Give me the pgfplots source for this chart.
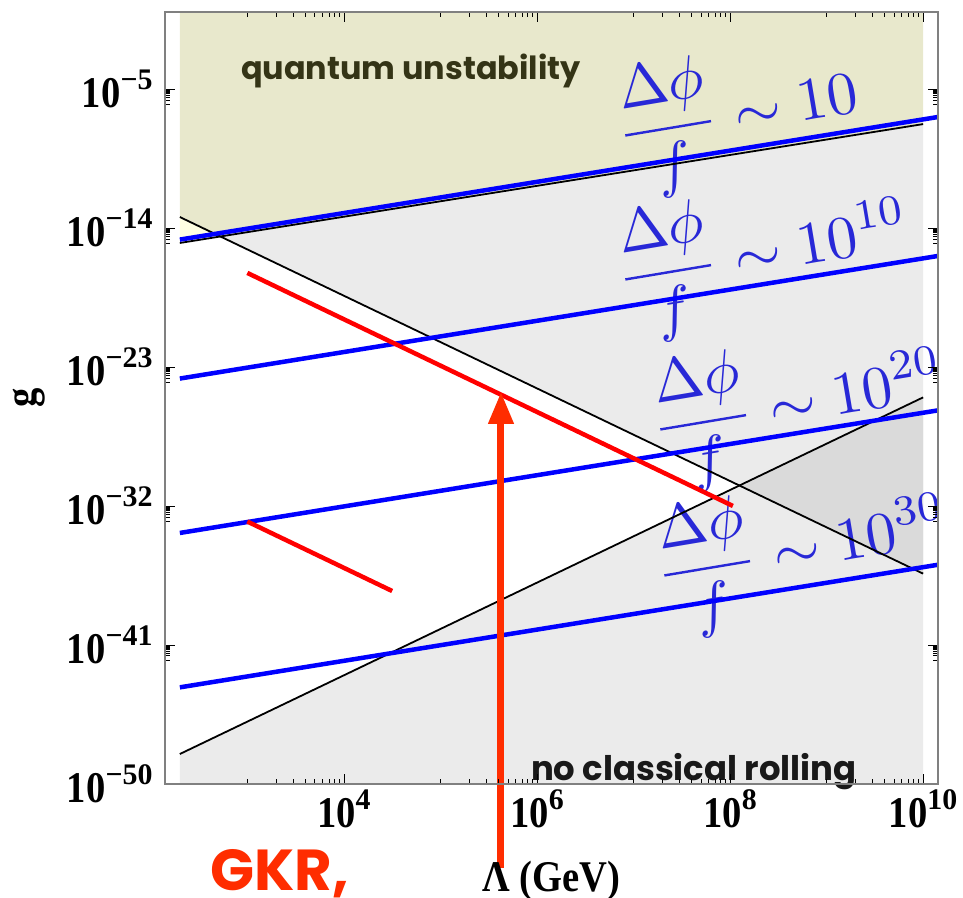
\documentclass[border=0pt]{standalone}
\usepackage[no-math]{fontspec}
\usepackage{pgfplots}
\pgfplotsset{compat=1.18}
\usetikzlibrary{arrows.meta,calc}
\setmainfont{Liberation Serif}
\newfontfamily\tickfont[FakeStretch=0.88]{Liberation Serif}
\newfontfamily\comic{Poppins}
\definecolor{khaki}{RGB}{232,232,204}
\definecolor{pale}{RGB}{255,255,226}
\definecolor{lgray}{RGB}{235,235,235}
\definecolor{dgray}{RGB}{218,218,218}
\definecolor{lblue}{RGB}{40,40,215}
\definecolor{arrowred}{RGB}{255,45,0}
\definecolor{olivetext}{RGB}{52,52,22}
\newcommand{\tl}[2]{{\tickfont\bfseries\fontsize{44}{44}\selectfont #1\raisebox{18bp}{\rmfamily\bfseries\fontsize{30}{30}\selectfont #2}}}
\newcommand{\lab}[1]{\scalebox{6.1}{$\displaystyle\frac{\Delta\phi}{f}\sim #1$}}
\begin{document}
\begin{tikzpicture}
\begin{axis}[
  scale only axis, width=773bp, height=772bp,
  xmode=log, ymode=log,
  xmin=140.3, xmax=1.426e10, ymin=1e-50, ymax=1,
  axis on top, clip=false,
  axis line style={draw=black!50, line width=1.2bp},
  tick align=inside, major tick length=10bp, minor tick length=5bp,
  every tick/.style={black, line width=0.7bp},
  xtick={1e4,1e6,1e8,1e10},
  xticklabels={\tl{10}{4},\tl{10}{6},\tl{10}{8},\tl{10}{10}},
  ytick={1e-50,1e-41,1e-32,1e-23,1e-14,1e-5},
  yticklabels={\tl{10}{−50},\tl{10}{−41},\tl{10}{−32},\tl{10}{−23},\tl{10}{−14},\tl{10}{−5}},
  minor xtick={1e3,2e3,3e3,4e3,5e3,6e3,7e3,8e3,9e3,1e5,2e5,3e5,4e5,5e5,6e5,7e5,8e5,9e5,1e7,2e7,3e7,4e7,5e7,6e7,7e7,8e7,9e7,1e9,2e9,3e9,4e9,5e9,6e9,7e9,8e9,9e9},
  minor ytick={1e-6,2e-6,3e-6,4e-6,5e-6,6e-6,7e-6,8e-6,9e-6,1e-15,2e-15,3e-15,4e-15,5e-15,6e-15,7e-15,8e-15,9e-15,1e-24,2e-24,3e-24,4e-24,5e-24,6e-24,7e-24,8e-24,9e-24,1e-33,2e-33,3e-33,4e-33,5e-33,6e-33,7e-33,8e-33,9e-33,1e-42,2e-42,3e-42,4e-42,5e-42,6e-42,7e-42,8e-42,9e-42},
  xticklabel style={anchor=north, yshift=-2bp},
  yticklabel style={anchor=east, xshift=-9bp},
]
% shaded regions
\addplot[fill=khaki, draw=none] coordinates {(200,5.25e-14) (526,2.88e-15) (1e10,5.50e-8) (1e10,1) (200,1)} -- cycle;
\addplot[fill=pale, draw=none] coordinates {(200,1.10e-15) (526,2.88e-15) (200,5.25e-14)} -- cycle;
\addplot[fill=lgray, draw=none] coordinates {(526,2.88e-15) (1e10,5.50e-8) (1e10,4.20e-37)} -- cycle;
\addplot[fill=lgray, draw=none] coordinates {(200,1e-50) (200,8.77e-49) (1e10,1.10e-25) (1e10,1e-50)} -- cycle;
\addplot[fill=dgray, draw=none] coordinates {(1.25e8,2.14e-31) (1e10,1.10e-25) (1e10,4.20e-37)} -- cycle;
% labels
\node[anchor=west, rotate=9.5, inner sep=0, text=lblue] at (rel axis cs:0.586,0.8381) {\lab{10}};
\node[anchor=west, rotate=9.5, inner sep=0, text=lblue] at (rel axis cs:0.586,0.6516) {\lab{10^{10}}};
\node[anchor=west, rotate=9.5, inner sep=0, text=lblue] at (rel axis cs:0.6313,0.4573) {\lab{10^{20}}};
\node[anchor=west, rotate=9.5, inner sep=0, text=lblue] at (rel axis cs:0.6365,0.2682) {\lab{10^{30}}};
\node[text=olivetext, font=\comic\bfseries\fontsize{32}{32}\selectfont] at (rel axis cs:0.3182,0.9236) {quantum unstability};
\node[text=black!90, font=\comic\bfseries\fontsize{34}{34}\selectfont] at (rel axis cs:0.684,0.016) {no classical rolling};
% black boundary lines
\addplot[black, line width=1.8bp] coordinates {(200,1.10e-15) (1e10,5.50e-8)};
\addplot[black, line width=1.8bp] coordinates {(200,5.25e-14) (1e10,4.20e-37)};
\addplot[black, line width=1.8bp] coordinates {(200,8.77e-49) (1e10,1.10e-25)};
% blue lines
\addplot[blue, line width=4.5bp] coordinates {(200,1.82e-15) (1.426e10,1.585e-7)};
\addplot[blue, line width=4.5bp] coordinates {(200,1.82e-24) (1.426e10,1.585e-16)};
\addplot[blue, line width=4.5bp] coordinates {(200,1.82e-34) (1.426e10,1.585e-26)};
\addplot[blue, line width=4.5bp] coordinates {(200,1.82e-44) (1.426e10,1.585e-36)};
% red lines
\addplot[red, line width=4.5bp] coordinates {(1000,1.259e-17) (1.07e8,1.02e-32)};
\addplot[red, line width=4.5bp] coordinates {(1000,1e-33) (3.162e4,3.16e-38)};
% arrow
\draw[arrowred, line width=7bp, -{Triangle[length=32bp,width=24bp]}] (axis cs:4.24e5,3.6e-56) -- (axis cs:4.24e5,2.5e-25);
% axis labels
\node[anchor=base, font=\tickfont\bfseries\fontsize{44}{44}\selectfont] at ([yshift=-107bp]rel axis cs:0.4994,0) {Λ (GeV)};
\node[rotate=90, font=\tickfont\bfseries\fontsize{44}{44}\selectfont] at ([xshift=-136bp]rel axis cs:0,0.5) {g};
\node[anchor=base west, text=arrowred, font=\comic\bfseries\fontsize{58}{58}\selectfont] at ([yshift=-106bp]rel axis cs:0.0543,0) {GKR,};
\end{axis}
\pgfresetboundingbox
\path[use as bounding box] ($(current axis.south west)+(-165bp,-114bp)$) rectangle ($(current axis.north east)+(25bp,12bp)$);
\end{tikzpicture}
\end{document}
